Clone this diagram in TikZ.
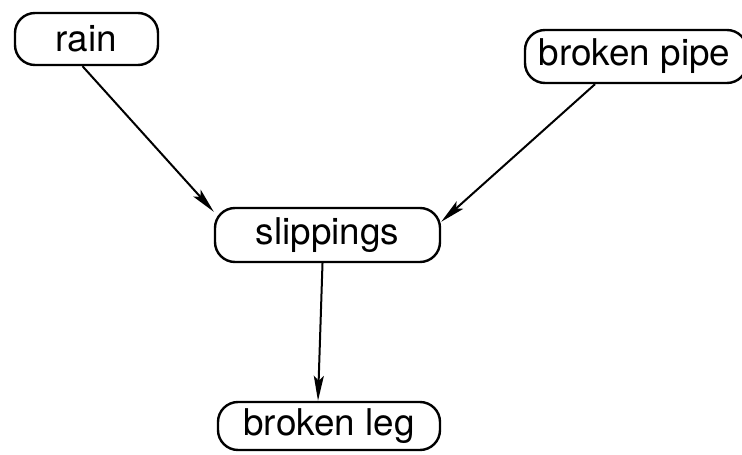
\documentclass[tikz,border=0pt]{standalone}
\usepackage{fontspec}
\setmainfont{TeX Gyre Heros}
\usetikzlibrary{arrows.meta,calc}
\tikzset{
  ev/.style={draw, line width=2.4bp, rounded corners=20bp, inner sep=0pt,
    font=\fontsize{37}{40}\selectfont, anchor=center},
  link/.style={line width=2bp, -{Stealth[length=25bp,width=10bp,inset=5bp]}}
}
\begin{document}
\begin{tikzpicture}[x=1bp,y=-1bp]
\useasboundingbox (0,0) rectangle (742,455);
\node[ev, minimum width=143bp, minimum height=52bp] (rain) at (86.5,39) {rain};
\node[ev, minimum width=222bp, minimum height=53bp] (pipe) at (636,56.5) {broken pipe\hspace*{3bp}};
\node[ev, minimum width=225bp, minimum height=54bp] (slip) at (327.5,235) {slippings};
\node[ev, minimum width=222bp, minimum height=48bp] (leg) at (329,426) {broken leg};
\draw[link] ($(rain.south)+(-4,0)$) -- ($(slip.north west)+(0,5)$);
\draw[link] ($(pipe.south)+(-41,0)$) -- ($(slip.north east)+(0,15)$);
\draw[link] ($(slip.south)+(-5,0)$) -- ($(leg.north)+(-11,0)$);
\end{tikzpicture}
\end{document}
